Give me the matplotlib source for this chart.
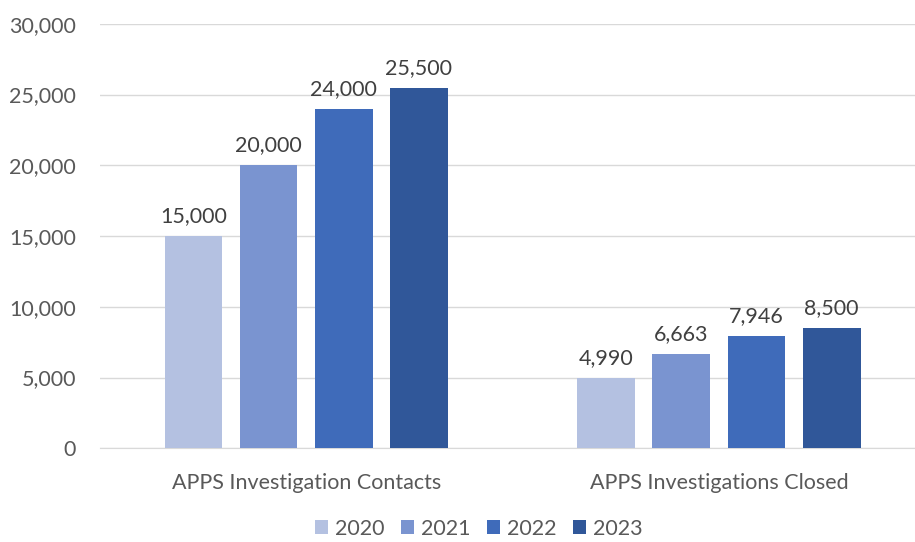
import matplotlib.pyplot as plt
import numpy as np
from matplotlib.ticker import FuncFormatter

# Datos
categorias = ['APPS Investigation Contacts', 'APPS Investigations Closed']
anios = ['2020', '2021', '2022', '2023']
valores = {
    '2020': [15000, 4990],
    '2021': [20000, 6663],
    '2022': [24000, 7946],
    '2023': [25500, 8500],
}
colores = ['#B4C1E1', '#7A94D0', '#3F6BBA', '#305799']

plt.rcParams['font.family'] = ['Lato', 'DejaVu Sans']
gris = '#595959'

fig = plt.figure(figsize=(9.15, 5.42), dpi=100)
ax = fig.add_axes([0.109, 0.173, 0.891, 0.783])

x = np.arange(len(categorias))
ancho = 0.14
paso = 0.182
for i, anio in enumerate(anios):
    pos = x + (i - 1.5) * paso
    barras = ax.bar(pos, valores[anio], width=ancho, color=colores[i], label=anio, zorder=3)
    for b, v in zip(barras, valores[anio]):
        ax.text(b.get_x() + b.get_width() / 2, v + 700, f'{v:,}',
                ha='center', va='bottom', fontsize=15.5, color='#404040')

ax.set_ylim(0, 30000)
ax.set_xlim(-0.5, 1.475)
ax.set_yticks(range(0, 30001, 5000))
ax.yaxis.set_major_formatter(FuncFormatter(lambda v, p: f'{int(v):,}'))
ax.set_xticks(x)
ax.set_xticklabels(categorias)
ax.tick_params(axis='both', length=0, labelsize=15.5, colors=gris)
ax.tick_params(axis='y', pad=17)
ax.tick_params(axis='x', pad=18)
ax.grid(axis='y', color='#D9D9D9', linewidth=1, zorder=0)
for s in ['top', 'right', 'left']:
    ax.spines[s].set_visible(False)
ax.spines['bottom'].set_color('#D9D9D9')

leg = ax.legend(loc='upper center', bbox_to_anchor=(0.465, -0.12), ncol=4, frameon=False,
                fontsize=15.5, handlelength=0.6, handleheight=0.6, handletextpad=0.3,
                columnspacing=0.8)
for t in leg.get_texts():
    t.set_color(gris)

plt.savefig('out.png', dpi=100)
